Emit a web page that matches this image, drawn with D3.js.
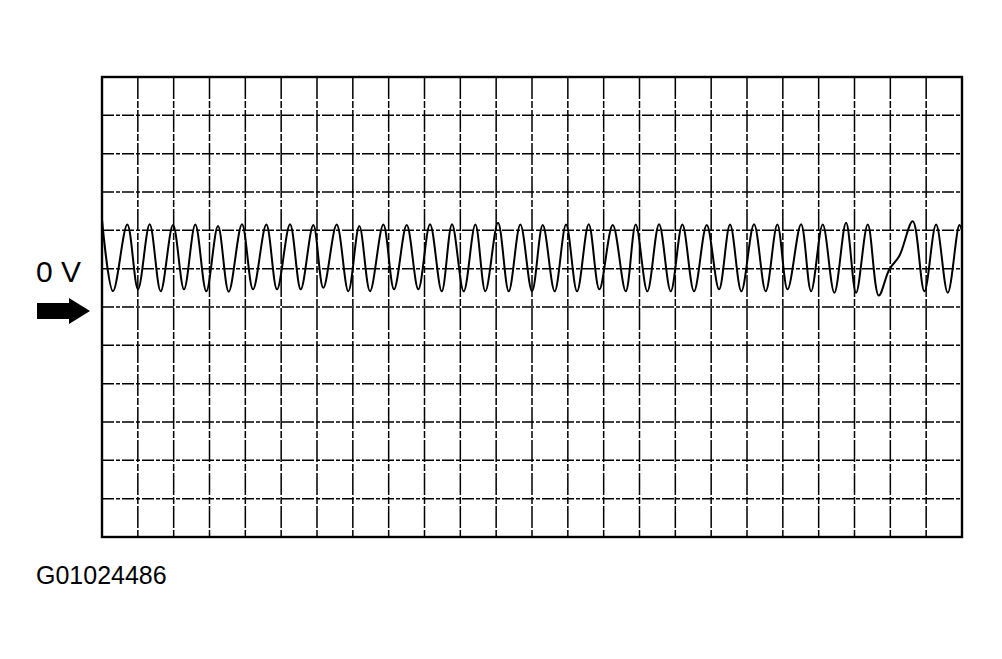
<!DOCTYPE html>
<html>
<head>
<meta charset="utf-8">
<script src="https://cdn.jsdelivr.net/npm/d3@7"></script>
<style>
  html, body { margin: 0; padding: 0; background: #fff; }
  svg { display: block; }
</style>
</head>
<body>
<script>
// ---- data (time and voltage in screen divisions; 0 V = centre line) ----
const xDivisions = 24;
const yDivisions = 12;
const zeroLabel = "0 V";
const figureId = "G01024486";

const peakT = [0.706, 1.331, 1.982, 2.604, 3.237, 3.907, 4.586, 5.247, 5.897, 6.550,
  7.181, 7.851, 8.504, 9.154, 9.768, 10.419, 11.052, 11.675, 12.300, 12.950,
  13.583, 14.253, 14.895, 15.546, 16.196, 16.877, 17.527, 18.197, 18.847, 19.509,
  20.114, 20.765, 21.370, 22.626, 23.277, 23.927];
const peakV = [2.15, 2.16, 2.14, 2.15, 2.11, 2.16, 2.15, 2.16, 2.14, 2.15,
  2.11, 2.15, 2.14, 2.16, 2.16, 2.15, 2.20, 2.15, 2.14, 2.15,
  2.16, 2.14, 2.15, 2.16, 2.15, 2.14, 2.15, 2.16, 2.15, 2.16,
  2.15, 2.20, 2.15, 2.24, 2.15, 2.14];

const troughT = [0.307, 1.005, 1.638, 2.289, 2.911, 3.536, 4.214, 4.884, 5.546, 6.176,
  6.874, 7.480, 8.150, 8.828, 9.481, 10.095, 10.698, 11.351, 12.001, 12.634,
  13.257, 13.880, 14.616, 15.219, 15.872, 16.522, 17.220, 17.843, 18.523, 19.132,
  19.788, 20.438, 21.044, 21.677, 22.950, 23.603];
const troughV = [0.41, 0.46, 0.41, 0.46, 0.41, 0.40, 0.46, 0.46, 0.46, 0.50,
  0.41, 0.41, 0.46, 0.46, 0.41, 0.41, 0.41, 0.41, 0.41, 0.41,
  0.41, 0.46, 0.41, 0.41, 0.41, 0.41, 0.46, 0.41, 0.41, 0.46,
  0.41, 0.37, 0.37, 0.30, 0.41, 0.37];

// start, end and the slow ramp of the irregular cycle
const extraT = [0.0, 21.97, 22.25, 24.0];
const extraV = [2.28, 0.98, 1.33, 2.00];

// ---- build trace ----
const trace = [];
peakT.forEach((t, i) => trace.push({ t, v: peakV[i] }));
troughT.forEach((t, i) => trace.push({ t, v: troughV[i] }));
extraT.forEach((t, i) => trace.push({ t, v: extraV[i] }));
trace.sort((a, b) => a.t - b.t);

// ---- drawing ----
const W = 1002, H = 659;
const gLeft = 102, gRight = 962, gTop = 77, gBottom = 537;

const svg = d3.select("body").append("svg")
  .attr("width", W).attr("height", H)
  .style("font-family", "'Liberation Sans', Arial, sans-serif");

svg.append("rect").attr("width", W).attr("height", H).attr("fill", "#fff");

const x = d3.scaleLinear().domain([0, xDivisions]).range([gLeft, gRight]);
const y = d3.scaleLinear().domain([-yDivisions / 2, yDivisions / 2]).range([gBottom, gTop]);

const grid = svg.append("g");
grid.selectAll("line.v")
  .data(d3.range(1, xDivisions))
  .join("line")
  .attr("class", "v")
  .attr("x1", d => x(d)).attr("x2", d => x(d))
  .attr("y1", gTop).attr("y2", gBottom)
  .attr("stroke", "#000")
  .attr("stroke-width", 1.5)
  .attr("stroke-dasharray", "22,2,7,2");

grid.selectAll("line.h")
  .data(d3.range(-yDivisions / 2 + 1, yDivisions / 2))
  .join("line")
  .attr("class", "h")
  .attr("x1", gLeft).attr("x2", gRight)
  .attr("y1", d => y(d)).attr("y2", d => y(d))
  .attr("stroke", "#000")
  .attr("stroke-width", 1.5)
  .attr("stroke-dasharray", "12,2,4,2");

svg.append("rect")
  .attr("x", gLeft).attr("y", gTop)
  .attr("width", gRight - gLeft).attr("height", gBottom - gTop)
  .attr("fill", "none")
  .attr("stroke", "#000")
  .attr("stroke-width", 2.4);

const line = d3.line()
  .x(d => x(d.t))
  .y(d => y(d.v))
  .curve(d3.curveCatmullRom.alpha(0.5));

svg.append("path")
  .datum(trace)
  .attr("d", line)
  .attr("fill", "none")
  .attr("stroke", "#000")
  .attr("stroke-width", 2)
  .attr("stroke-linejoin", "round");

// 0 V label and arrow
svg.append("text")
  .attr("x", 36).attr("y", y(0) - 25)
  .attr("font-size", 30)
  .attr("fill", "#000")
  .text(zeroLabel);

const ay = y(0) + 4;
const arrow = d3.path();
arrow.moveTo(37, ay - 8);
arrow.lineTo(69, ay - 8);
arrow.lineTo(69, ay - 13);
arrow.lineTo(90, ay);
arrow.lineTo(69, ay + 13);
arrow.lineTo(69, ay + 8);
arrow.lineTo(37, ay + 8);
arrow.closePath();
svg.append("path").attr("d", arrow.toString()).attr("fill", "#000");

svg.append("text")
  .attr("x", 36).attr("y", 584)
  .attr("font-size", 25)
  .attr("fill", "#000")
  .text(figureId);
</script>
</body>
</html>
